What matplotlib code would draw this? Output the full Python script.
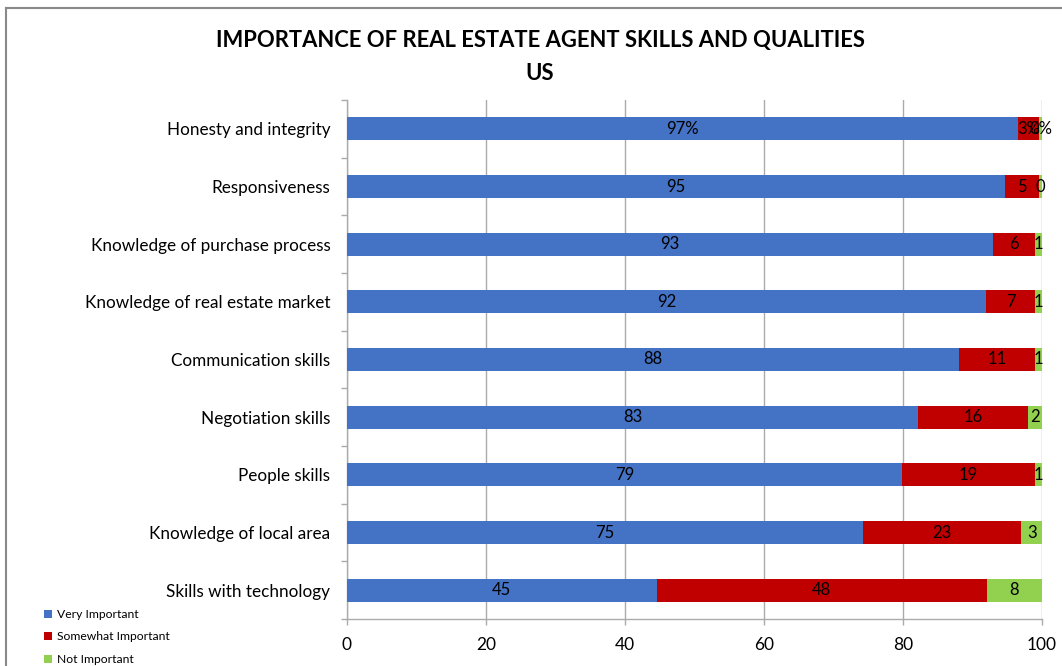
import matplotlib
matplotlib.use("Agg")
import matplotlib.pyplot as plt
from matplotlib.lines import Line2D
import numpy as np

plt.rcParams["font.family"] = ["Lato", "DejaVu Sans"]

skills = [
    "Honesty and integrity",
    "Responsiveness",
    "Knowledge of purchase process",
    "Knowledge of real estate market",
    "Communication skills",
    "Negotiation skills",
    "People skills",
    "Knowledge of local area",
    "Skills with technology",
]
very_important = [97, 95, 93, 92, 88, 83, 79, 75, 45]
somewhat_important = [3, 5, 6, 7, 11, 16, 19, 23, 48]
not_important = [0.4, 0.4, 1, 1, 1, 2, 1, 3, 8]

series = [
    ("Very Important", very_important, "#4472C4"),
    ("Somewhat Important", somewhat_important, "#C00000"),
    ("Not Important", not_important, "#92D050"),
]
x_ticks = [0, 20, 40, 60, 80, 100]
grid_grey = "#ABABAB"

fig = plt.figure(figsize=(10.62, 6.66), dpi=100)
ax = fig.add_axes([347 / 1062, 47 / 666, 695 / 1062, 519 / 666])

# 100% stacked: each row is scaled to its own total
totals = np.sum([v for _, v, _ in series], axis=0)
y = np.arange(len(skills))
left = np.zeros(len(skills))
for name, vals, color in series:
    vals = np.asarray(vals, dtype=float)
    width = vals / totals * 100
    ax.barh(y, width, left=left, height=0.4, color=color, label=name, zorder=3)
    for i, (v, w, l) in enumerate(zip(vals, width, left)):
        txt = f"{v:.0f}%" if i == 0 else f"{v:.0f}"
        ax.text(l + w / 2, i, txt, ha="center", va="center", fontsize=12,
                color="black", zorder=4)
    left += width

ax.set_xlim(0, 100)
ax.set_ylim(len(skills) - 0.5, -0.5)
ax.set_xticks(x_ticks)
ax.set_xticklabels([str(t) for t in x_ticks], fontsize=12.5)
ax.set_yticks(y)
ax.set_yticklabels(skills, fontsize=12.3)
ax.set_yticks(np.arange(len(skills) + 1) - 0.5, minor=True)
ax.tick_params(axis="y", which="major", length=0, pad=12)
ax.tick_params(axis="y", which="minor", length=4, color=grid_grey, width=1)
ax.tick_params(axis="x", length=4, color=grid_grey, width=1, pad=9)
ax.grid(axis="x", color=grid_grey, lw=1, zorder=0)
for side in ("top", "right"):
    ax.spines[side].set_visible(False)
for side in ("left", "bottom"):
    ax.spines[side].set_color(grid_grey)
    ax.spines[side].set_linewidth(1)

fig.text(540 / 1062, 1 - 41 / 666, "IMPORTANCE OF REAL ESTATE AGENT SKILLS AND QUALITIES",
         ha="center", va="center", fontsize=15.8, fontweight="bold")
fig.text(540 / 1062, 1 - 73 / 666, "US", ha="center", va="center",
         fontsize=15.8, fontweight="bold")

fig.legend(loc="upper left", bbox_to_anchor=(44 / 1062, 1 - 609 / 666),
           frameon=False, fontsize=8.7, handlelength=0.7, handleheight=0.7,
           handletextpad=0.4, labelspacing=0.95, borderpad=0, borderaxespad=0)

# chart frame (left and top edges)
fig.add_artist(Line2D([5.5 / 1062, 5.5 / 1062], [0, 1 - 8 / 666],
                      transform=fig.transFigure, color="#898989", lw=1.5))
fig.add_artist(Line2D([5.5 / 1062, 1], [1 - 8 / 666, 1 - 8 / 666],
                      transform=fig.transFigure, color="#898989", lw=1.5))

fig.savefig("out.png", dpi=100)
